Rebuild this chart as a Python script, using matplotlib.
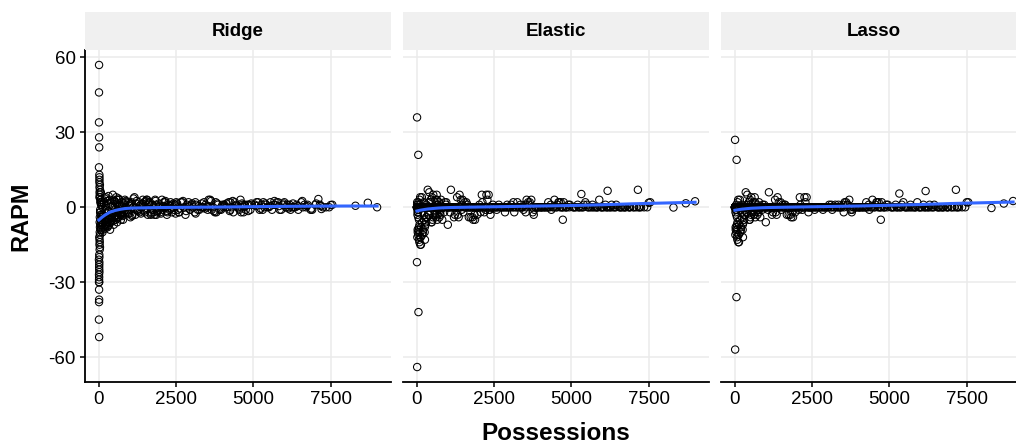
import matplotlib
matplotlib.use("Agg")
import matplotlib.pyplot as plt
import numpy as np

plt.rcParams["font.family"] = ["Liberation Sans", "DejaVu Sans"]
plt.rcParams["axes.unicode_minus"] = False

# possessions per player (same players in all three models)
possessions = [
    5, 12, 3, 20, 8, 15, 30, 2, 45, 10,
    25, 6, 18, 40, 1, 55, 14, 9, 35, 22,
    60, 4, 28, 11, 70, 16, 7, 50, 33, 19,
    80, 13, 38, 2, 65, 24, 90, 6, 42, 17,
    100, 27, 8, 58, 3, 75, 31, 12, 48, 21,
    110, 36, 5, 85, 15, 62, 9, 44, 26, 95,
    120, 1, 52, 18, 68, 4, 34, 105, 11, 78,
    130, 150, 175, 200, 140, 220, 260, 185, 300, 160,
    240, 320, 350, 280, 400, 210, 370, 450, 330, 250,
    420, 500, 380, 550, 470, 600, 430, 520, 360, 640,
    580, 700, 490, 660, 540, 750, 610, 480, 720, 560,
    800, 620, 680, 850, 530, 760, 590, 880, 710, 650,
    820, 740, 900, 570, 690, 860, 780, 630, 840, 730,
    920, 1000, 1080, 950, 1150, 1230, 1020, 1300, 1100, 980,
    1350, 1180, 1420, 1260, 1500, 1050, 1380, 1580, 1200, 1460,
    1650, 1320, 1720, 1540, 1800, 1400, 1620, 1880, 1480, 1760,
    1950, 1560, 2020, 1700, 2100, 1840, 1680, 2180, 1900, 1600,
    2250, 1980, 2320, 2060, 2400, 1860, 2140, 2460, 2220, 1920,
    2040, 2280, 1740, 2360, 2500, 2120, 2430, 1820, 2200, 2380,
    2550, 2650, 2750, 2600, 2850, 2950, 2700, 3050, 2800, 3150,
    3000, 3250, 2900, 3350, 3100, 3450, 3200, 3550, 3300, 3650,
    3400, 3750, 3500, 3850, 3600, 3950, 3700, 4050, 3800, 4150,
    3900, 4250, 4000, 4350, 4100, 4450, 4200, 4550, 4300, 4650,
    4400, 4750, 4500, 4850, 4600, 4950, 4700, 2580, 4800, 3120,
    4900, 3380, 4720, 3780, 4250, 2880, 4580, 3520, 4020, 4680,
    5050, 5200, 5350, 5100, 5500, 5650, 5300, 5800, 5450, 5950,
    5600, 6100, 5750, 6250, 5900, 6400, 6050, 6550, 6200, 6700,
    5150, 6350, 5400, 6850, 5700, 6600, 5550, 7000, 6150, 6450,
    7100, 5250, 7200, 6300, 7150, 5850, 6750, 7350, 6000, 6900,
    7500, 7450, 7550, 8300, 8700, 9000, 6650, 7250, 5320, 6170,
    135, 190, 230, 270, 310, 340, 390, 410, 440, 460,
    510, 545, 575, 605, 635, 670, 705, 735, 770, 810,
    830, 870, 940, 990, 1030, 1070, 1120, 1170, 1220, 1270,
    1310, 1360, 1410, 1450, 1520, 1570, 1630, 1690, 1770, 1830,
    1890, 1940, 2010, 2080, 2150, 2210, 2270, 2340, 2410, 2480,
    2530, 2620, 2720, 2820, 2920, 3020, 3130, 3230, 3330, 3430,
    3530, 3630, 3730, 3830, 3930, 4030, 4130, 4230, 4330, 4430,
    4530, 4630, 4730, 4830, 4930, 5080, 5230, 5380, 5530, 5680,
    5830, 5980, 6130, 6280, 6430, 6580, 6730, 6880, 7030, 7180,
    115, 145, 165, 195, 215, 235, 255, 275, 295, 315,
]

ridge = [
    57, -12, 46, 8, -52, 13, -4, 34, 2, -30,
    -6, 28, 11, -2, -45, 3, -20, 24, -8, 6,
    -3, -38, 5, -25, 1, 10, -37, -5, 7, -15,
    -7, -22, 4, 16, -9, -17, 2, -33, -1, 12,
    -4, -10, -28, 3, -30, -6, 9, -19, -2, -13,
    -5, -11, -29, 1, -26, 6, -24, -7, -14, -3,
    0, -21, -9, 4, -8, -27, -16, -6, -23, 2,
    -9, 2, -5.5, -7, -3, 4, -6, -1, -4.5, -8,
    1, -5, 3, -8, -2, -6, -3.5, 5, -7, -1,
    -4, 2.5, -6, -2, 3, -3, -5, 1, -9, -1.5,
    3, -2, -4, 0.5, -5, 2, -1, -7, -3, 4,
    -2, -4, 1, -1, 2, -3, -6, 0, -5, 3,
    1, -2, -1, -4, -3, 2, -5, 0.5, 3, -2,
    -2, 1, -3, 2, 4, -1, -4, 2, 0, -2.5,
    1, -3, 3, -1, -2, 2, 0, -3, 1.5, -1,
    2, -2, -1, 3, -3, 0, 1, -2, 2, -1,
    -1, 3, 0, -2, 2, 1, -3, 0, -1.5, 2,
    1, -2, 2, -1, 0, -3, 2, 1, -2, 0,
    3, -1, 1, -2, 2, 0, -1, 3, -3, 1,
    -1, 2, 0, -2, 1, -1, 2, 0, -3, 1,
    1, -1, 2, 0, -2, 1, -1, 3, 0, -1,
    2, -2, 0, 1, 3, -1, 0, 1, -2, 0,
    -1, 2, 1, -2, 0, 1, 2, -1, 0, 1,
    2, -1, 0, 1, -2, 1, 0, -2, 1, 2,
    -1, 0, 1, 2, -1, 0, 3, -1, 0, -2,
    1, -1, 0, 2, 0, 1, -1, 2, 0, 1,
    -1, 1, 2, 0, -1, 1, 0, 2, -1, 0,
    2, 0, 1, -1, 1, 0, 2, 1, 0, -1,
    3.3, 1, -0.7, 0, 1, -1, 1, 0, 2, -1,
    0.9, 0, 1, 0.6, 1.8, 0, 1, 0, 2, 1,
    -6.5, 3.5, -7.5, -2.5, 4.5, -4.5, 1.5, -3.5, 0.5, -5.5,
    2.5, -3.5, 1.5, -4.5, 3.5, -1.5, -2.5, 0.5, -3.5, 1.5,
    -1.5, 2.5, -2.5, 0.5, 1.5, -3.5, 3.5, -0.5, 2.5, -1.5,
    0.5, -2.5, 1.5, -1.5, 2.5, -0.5, 1.5, -2.5, 0.5, 2.5,
    -1.5, 1.5, -2.5, 0.5, 2.5, -1.5, 0.5, -0.5, 1.5, -2.5,
    1.5, -0.5, 2.5, -1.5, 0.5, 1.5, -2.5, 0.5, 1.5, -0.5,
    0.5, 2.5, -1.5, 1.5, -0.5, 0.5, 1.5, -1.5, 2.5, 0.5,
    -0.5, 1.5, 0.5, -1.5, 1.5, 0.5, -0.5, 1.5, 0.5, 2.5,
    0.5, 1.5, -0.5, 1.5, 0.5, 2.5, 0.5, -0.5, 1.5, 0.5,
    -10, -3.5, 1.5, -8.5, -4.5, 0.5, -6.5, 2.5, -7.5, -1.5,
]

elastic = [
    36, 0, 0, -1, -64, 0, 0, -22, 21, 0,
    -9, 0, 0, -1, 0, 0, -12, 2, 0, 0,
    0, 0, -10, 0, -13, 0, 1, -42, 0, -3,
    -14, 0, 0, 0, -8, 0, 3, 0, -11, 0,
    0, -2, 0, -9, 0, -1, 0, 0, 2, 0,
    -15, 0, 0, -7, 0, 1, 0, -4, 0, 0,
    -12, 0, 0, 0, -5, 0, -2, 4, 0, -10,
    -15, 0, -11, -9, 0, 2, -13, 0, -6, 4,
    0, -4, 7, -7, 6, 0, -3, 3, 0, -10,
    0, -5, 2, 0, -6, 3, 0, -4, -2, 5,
    -3, 0, 4, -5, 0, -2, 0, -6, 2, 0,
    0, -4, 1, 0, 5, -3, 0, -2, 0, 3,
    -5, 0, 2, 0, -1, 0, 3, -3, 0, -4,
    0, -7, 0, 2, 0, -3, 0, 4, 7, 0,
    -4, 0, 3, 0, -2, 0, 5, 0, -4, 1,
    0, -3, 0, 2, -4, 0, 0, -5, 3, 0,
    -3, 0, 1, 0, 5, 0, -4, -2, 0, 2,
    5, 0, 5, -2, 0, -3, 0, 1, -1, 0,
    0, 3, -4, -1, 0, 2, 0, -5, 0, -3,
    0, 1, 0, 0, -2, 0, 0, 1, 0, -2,
    0, 2, 0, 1, 0, -1, 0, 3, 0, 2,
    0, -2, 1, 0, 2, 0, 3, 0, -1, 0,
    0, 2, 0, -1, 0, 3, 0, 1, 0, 2,
    0, 2, 0, 0, 2, 1, 0, -1, 0, 2,
    1, 0, -5, -3, 0, 0, 2, -2, 0, 0,
    0, 1, 0, 0, 1, 0, 0, 0, 2, 0,
    0, 1, 0, 0, 3, 0, 0, 0, 0, 0,
    0, 0, 1, 0, 0, 0, 0, 0, 0, 1,
    0, 0, 0, 1, 7, 0, 0, 0, 0, 0,
    1.8, 0, 2, -0.1, 1.6, 2.4, 0, 0, 5.3, 6.6,
    -8, 0, -5, 0, 1, 0, -3, 0, 2, 0,
    0, 0, -2, 0, 0, 1, 0, 0, -1, 0,
    0, 0, 1, 0, 0, -2, 0, 0, 0, 0,
    0, 0, 0, -1, 0, 0, 1, 0, 0, 0,
    0, 0, 0, 0, 0, 0, 0, -1, 0, 0,
    0, 0, 0, 0, 1, 0, 0, 0, 0, 0,
    0, 1, 0, 0, 0, 0, 0, 0, 1, 0,
    0, 0, 0, 0, 0, 0, 0, 0, 0, 1,
    0, 0, 0, 0, 0, 0, 0, 0, 0, 0,
    -12, 0, -6, -10, 0, -3, -8, 0, -4, 0,
]

lasso = [
    27, 0, 0, 0, -57, 0, 0, 0, 0, 0,
    -8, 0, 0, -1, 0, 19, -11, 0, 0, 0,
    0, 0, -9, 0, -12, 0, 0, -36, 0, -2,
    -13, 0, 0, 0, -7, 0, 2, 0, -10, 0,
    0, -1, 0, -8, 0, 0, 0, 0, 1, 0,
    -14, 0, 0, -6, 0, 0, 0, -3, 0, 0,
    -11, 0, 0, 0, -4, 0, -1, 3, 0, -9,
    -14, 0, -10, -8, 0, 1, -12, 0, -5, 3,
    0, -3, 6, -6, 5, 0, -2, 2, 0, -9,
    0, -4, 1, 0, -5, 2, 0, -3, -1, 4,
    -2, 0, 3, -4, 0, -1, 0, -5, 1, 0,
    0, -3, 0, 0, 4, -2, 0, -1, 0, 2,
    -4, 0, 1, 0, 0, 0, 2, -2, 0, -3,
    0, -6, 0, 1, 0, -2, 0, 3, 6, 0,
    -3, 0, 2, 0, -1, 0, 4, 0, -3, 0,
    0, -2, 0, 1, -3, 0, 0, -4, 2, 0,
    -2, 0, 0, 0, 4, 0, -3, -1, 0, 1,
    4, 0, 4, -1, 0, -2, 0, 0, 0, 0,
    0, 2, -3, 0, 0, 1, 0, -4, 0, -2,
    0, 0, 0, 0, -1, 0, 0, 1, 0, -1,
    0, 1, 0, 1, 0, 0, 0, 2, 0, 1,
    0, -1, 1, 0, 2, 0, 3, 0, -1, 0,
    0, 2, 0, -1, 0, 3, 0, 1, 0, 2,
    0, 2, 0, 0, 2, 1, 0, -1, 0, 1,
    1, 0, -5, -2, 0, 0, 2, -2, 0, 0,
    0, 1, 0, 0, 0, 0, 0, 0, 2, 0,
    0, 1, 0, 0, 2, 0, 0, 0, 0, 0,
    0, 0, 1, 0, 0, 0, 0, 0, 0, 1,
    0, 0, 0, 1, 7, 0, 0, 0, 0, 0,
    2, 0, 2, -0.3, 1.5, 2.5, 0, 0, 5.5, 6.5,
    -7, 0, -4, 0, 0, 0, -2, 0, 1, 0,
    0, 0, -1, 0, 0, 0, 0, 0, -1, 0,
    0, 0, 0, 0, 0, -1, 0, 0, 0, 0,
    0, 0, 0, 0, 0, 0, 1, 0, 0, 0,
    0, 0, 0, 0, 0, 0, 0, 0, 0, 0,
    0, 0, 0, 0, 0, 0, 0, 0, 0, 0,
    0, 1, 0, 0, 0, 0, 0, 0, 1, 0,
    0, 0, 0, 0, 0, 0, 0, 0, 0, 1,
    0, 0, 0, 0, 0, 0, 0, 0, 0, 0,
    -11, 0, -5, -9, 0, -2, -7, 0, -3, 0,
]

# smoothed trend (loess)
fit_x = [0, 100, 200, 350, 520, 700, 850, 1100, 2000, 3000, 4000, 5000, 6000, 7000, 8000, 9000]
ridge_fit = [-5.1, -4.0, -3.1, -2.0, -1.3, -0.8, -0.5, -0.3, -0.1, 0.0, 0.1, 0.25, 0.35, 0.45, 0.5, 0.5]
elastic_fit = [-1.5, -1.2, -1.0, -0.7, -0.5, -0.3, -0.2, -0.1, 0.1, 0.3, 0.5, 0.7, 1.0, 1.4, 1.7, 2.0]
lasso_fit = [-1.2, -1.0, -0.8, -0.6, -0.4, -0.3, -0.2, -0.1, 0.1, 0.3, 0.5, 0.8, 1.1, 1.5, 1.8, 2.1]

models = ["Ridge", "Elastic", "Lasso"]
values = [ridge, elastic, lasso]
fits = [ridge_fit, elastic_fit, lasso_fit]

W, H = 1016, 447
fig = plt.figure(figsize=(W / 100, H / 100), dpi=100)

lefts = [85, 403, 721]
pw = 306
top, bottom = 50, 382

for i in range(3):
    ax = fig.add_axes([lefts[i] / W, (H - bottom) / H, pw / W, (bottom - top) / H])
    ax.set_xlim(-450, 9450)
    ax.set_ylim(-70, 63)
    ax.set_xticks([0, 2500, 5000, 7500])
    ax.set_yticks([-60, -30, 0, 30, 60])
    ax.grid(True, color="#EBEBEB", linewidth=1.1)
    ax.set_axisbelow(True)
    for s in ["top", "right"]:
        ax.spines[s].set_visible(False)
    ax.spines["bottom"].set_linewidth(1.3)
    ax.spines["left"].set_linewidth(1.3)
    ax.tick_params(axis="both", length=3.8, width=1.1, labelsize=13.5, pad=3)
    if i > 0:
        ax.spines["left"].set_visible(False)
        ax.tick_params(axis="y", left=False, labelleft=False)

    ax.scatter(possessions, values[i], s=28, facecolors="none", edgecolors="black",
               linewidths=0.75, zorder=2)
    ax.plot(fit_x, fits[i], color="#3366FF", linewidth=2.2, zorder=3)

    # facet strip
    sax = fig.add_axes([lefts[i] / W, (H - top) / H, pw / W, 38 / H])
    sax.set_facecolor("#F0F0F0")
    sax.set_xticks([])
    sax.set_yticks([])
    for s in sax.spines.values():
        s.set_visible(False)
    sax.text(0.5, 0.5, models[i], ha="center", va="center", fontsize=13.5,
             fontweight="bold", transform=sax.transAxes)

fig.text(21 / W, 1 - 216 / H, "RAPM", rotation=90, ha="center", va="center",
         fontsize=17, fontweight="bold")
fig.text(556 / W, 1 - 434 / H, "Possessions", ha="center", va="center",
         fontsize=17.5, fontweight="bold")

fig.savefig("out.png", dpi=100)
